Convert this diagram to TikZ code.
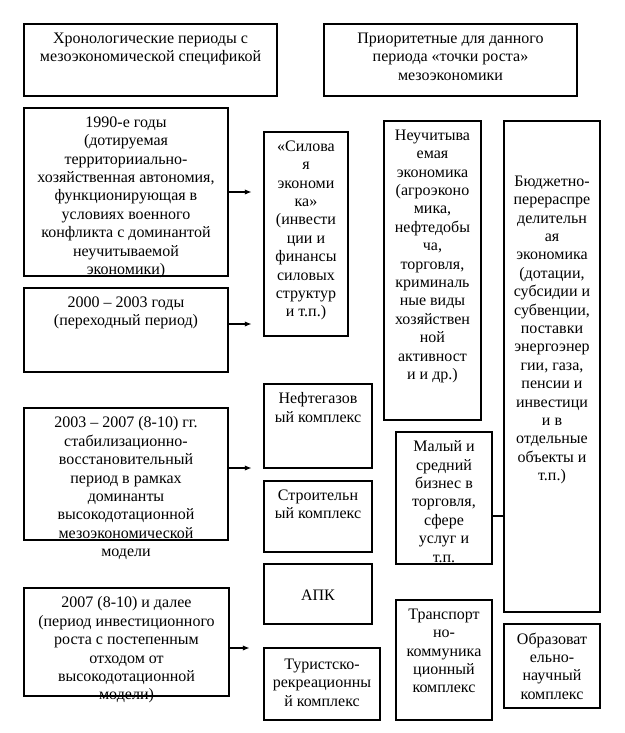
\documentclass[tikz,border=0pt]{standalone}
\usepackage{fontspec}
\setmainfont{Liberation Serif}
\usepackage{tikz}
\usetikzlibrary{arrows.meta,positioning,fit}
\newcommand{\tnr}{\fontsize{12pt}{13.8pt}\selectfont}

\begin{document}
\begin{tikzpicture}[x=0.75pt,y=-0.75pt,>={Latex[length=5pt,width=4pt]},
 box/.style={draw,line width=0.8pt,inner sep=0pt},
 txt/.style={align=center,inner sep=0pt,anchor=north,font=\tnr,yshift=-6.75pt,
   execute at begin node={\rule{0pt}{9pt}}},
 arr/.style={->,line width=0.8pt,shorten >=9pt},
 ln/.style={line width=0.8pt}]
\useasboundingbox (0,0) rectangle (625,733);

\node[box,fit={(24,24) (277,96)}] (hdl) {};
\node[box,fit={(324,24) (577,96)}] (hdr) {};
\node[box,fit={(24,108) (228,276)}] (b1990) {};
\node[box,fit={(24,288) (228,372)}] (b2000) {};
\node[box,fit={(24,408) (228,540)}] (b2003) {};
\node[box,fit={(24,588) (229,696)}] (b2007) {};
\node[box,fit={(264,132) (348,336)}] (silova) {};
\node[box,fit={(384,121) (481,420)}] (shadow) {};
\node[box,fit={(504,121) (600,612)}] (budget) {};
\node[box,fit={(264,384) (372,468)}] (oilgas) {};
\node[box,fit={(264,481) (372,552)}] (build) {};
\node[box,fit={(264,564) (372,624)}] (apk) {};
\node[box,fit={(264,648) (380,720)}] (tour) {};
\node[box,fit={(396,432) (492,564)}] (small) {};
\node[box,fit={(396,600) (492,720)}] (trans) {};
\node[box,fit={(504,624) (600,708)}] (educ) {};

\node[txt] (thdl) at (hdl.north) {Хронологические периоды с\\мезоэкономической спецификой};
\node[txt] (thdr) at (hdr.north) {Приоритетные для данного\\периода «точки роста»\\мезоэкономики};
\node[txt] (t1990) at (b1990.north) {1990-е годы\\(дотируемая\\территорииально-\\хозяйственная автономия,\\функционирующая в\\условиях военного\\конфликта с доминантой\\неучитываемой\\экономики)};
\node[txt] (t2000) at (b2000.north) {2000 – 2003 годы\\(переходный период)};
\node[txt] (t2003) at (b2003.north) {2003 – 2007 (8-10) гг.\\стабилизационно-\\восстановительный\\период в рамках\\доминанты\\высокодотационной\\мезоэкономической\\модели};
\node[txt] (t2007) at (b2007.north) {2007 (8-10) и далее\\(период инвестиционного\\роста с постепенным\\отходом от\\высокодотационной\\модели)};
\node[txt] (tsilova) at (silova.north) {«Силова\\я\\экономи\\ка»\\(инвести\\ции и\\финансы\\силовых\\структур\\и т.п.)};
\node[txt] (tshadow) at (shadow.north) {Неучитыва\\емая\\экономика\\(агроэконо\\мика,\\нефтедобы\\ча,\\торговля,\\криминаль\\ные виды\\хозяйствен\\ной\\активност\\и и др.)};
\node[txt,yshift=-34.5pt] (tbudget) at (budget.north) {Бюджетно-\\перераспре\\делительн\\ая\\экономика\\(дотации,\\субсидии и\\субвенции,\\поставки\\энергоэнер\\гии, газа,\\пенсии и\\инвестици\\и в\\отдельные\\объекты и\\т.п.)};
\node[txt] (toilgas) at (oilgas.north) {Нефтегазов\\ый комплекс};
\node[txt] (tbuild) at (build.north) {Строительн\\ый комплекс};
\node[txt,yshift=-12pt] (tapk) at (apk.north) {АПК};
\node[txt,yshift=-1.5pt] (ttour) at (tour.north) {Туристско-\\рекреационны\\й комплекс};
\node[txt] (tsmall) at (small.north) {Малый и\\средний\\бизнес в\\торговля,\\сфере\\услуг и\\т.п.};
\node[txt] (ttrans) at (trans.north) {Транспорт\\но-\\коммуника\\ционный\\комплекс};
\node[txt] (teduc) at (educ.north) {Образоват\\ельно-\\научный\\комплекс};

\coordinate (a1990) at (b1990.east);
\coordinate (a2000) at ([yshift=4.5pt]b2000.east);
\coordinate (a2003) at ([yshift=4.5pt]b2003.east);
\coordinate (a2007) at ([yshift=-4.5pt]b2007.east);
\draw[arr] (a1990) -- (a1990 -| silova.west);
\draw[arr] (a2000) -- (a2000 -| silova.west);
\draw[arr] (a2003) -- (a2003 -| oilgas.west);
\draw[arr,shorten >=10.5pt] (a2007) -- (a2007 -| tour.west);
\coordinate (msb) at ([yshift=-13.5pt]small.east);
\draw[ln] (msb) -- (msb -| budget.west);
\end{tikzpicture}
\end{document}
